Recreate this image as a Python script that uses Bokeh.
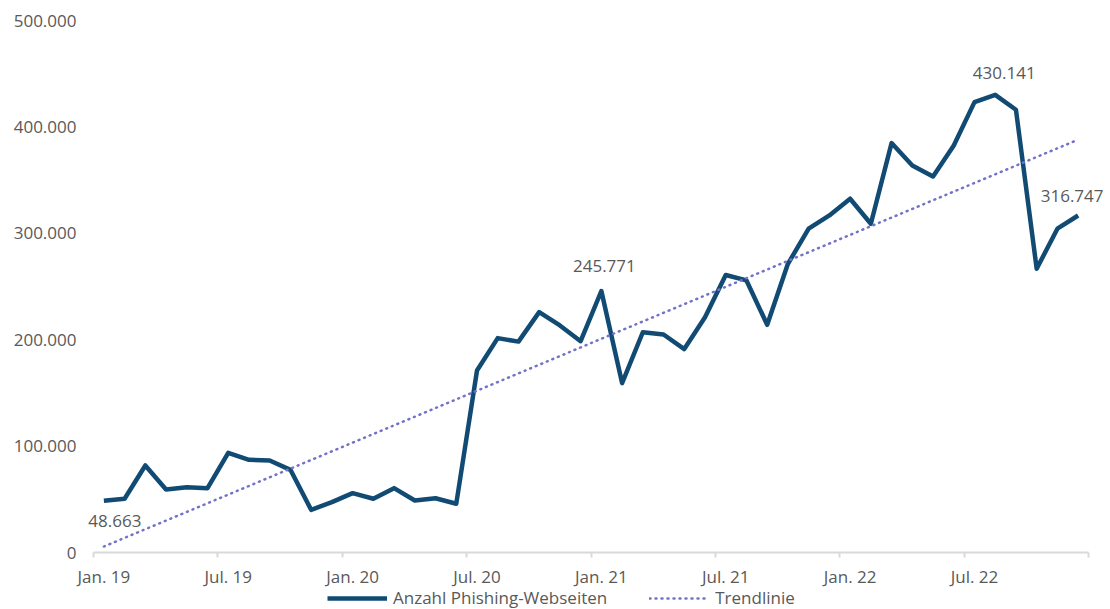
from bokeh.plotting import figure
from bokeh.models import FixedTicker, Legend, LegendItem, ColumnDataSource, LabelSet, Range1d
from bokeh.core.properties import value
from bokeh.embed import file_html
from bokeh.resources import INLINE

# ---- data (monthly, Jan. 2019 - Dec. 2022) ----
months = list(range(48))
phishing = [48663, 50500, 81800, 59200, 61400, 60500, 93700, 87100, 86500, 77700, 40100, 47300,
            55800, 50500, 60500, 48900, 51000, 45800, 171000, 201500, 198200, 225900, 213400, 198600,
            245771, 159200, 207000, 204900, 191200, 221000, 260800, 255700, 214000, 271300, 304300, 316800,
            332500, 309000, 384800, 363800, 353400, 382600, 423300, 430141, 416100, 266700, 304300, 316747]
trend_x = [0, 47]
trend_y = [5600, 388000]
tick_pos = [0, 6, 12, 18, 24, 30, 36, 42]
tick_labels = ["Jan. 19", "Jul. 19", "Jan. 20", "Jul. 20", "Jan. 21", "Jul. 21", "Jan. 22", "Jul. 22"]
y_ticks = [0, 100000, 200000, 300000, 400000, 500000]
y_labels = ["0", "100.000", "200.000", "300.000", "400.000", "500.000"]
label_idx = [0, 24, 43, 47]

FONT = "Open Sans"
GRAY = "#595959"
FS = "17px"

# frame spans a bit wider/taller than the axes so that labels and legend are not clipped
LEFT = 76
UNIT_X = 995 / 48.0
x_start = -0.5 - (93 - LEFT) / UNIT_X
x_end = 47.5 + 22 / UNIT_X
UNIT_Y = 500000 / 532.0
y_start = -57 * UNIT_Y

p = figure(frame_width=1110 - LEFT, frame_height=589, output_backend="svg", toolbar_location=None,
           x_range=Range1d(x_start, x_end), y_range=Range1d(y_start, 500000),
           min_border_left=LEFT, min_border_right=0, min_border_top=20, min_border_bottom=0)
p.outline_line_color = None
p.grid.visible = False
p.background_fill_color = "white"
p.border_fill_color = "white"

r1 = p.line(months, phishing, line_color="#114b74", line_width=4.5, line_join="round")
r2 = p.line(trend_x, trend_y, line_color="#7272c8", line_width=2.5, line_dash="1 5", line_cap="round")

# data labels
fmt = lambda v: f"{v:,}".replace(",", ".")
lab_src = ColumnDataSource(dict(
    x=[months[i] for i in label_idx],
    y=[phishing[i] for i in label_idx],
    t=[fmt(phishing[i]) for i in label_idx],
    dx=[11, 3, 9, -6],
    dy=[-20, 25, 22, 19],
))
labels = LabelSet(x="x", y="y", text="t", x_offset="dx", y_offset="dy", source=lab_src,
                  text_align="center", text_baseline="middle", text_font=value(FONT),
                  text_font_size=FS, text_color=GRAY)
p.add_layout(labels)

# x axis (fixed at y = 0)
xa = p.xaxis[0]
xa.fixed_location = 0
xa.bounds = (-0.5, 47.5)
xa.ticker = FixedTicker(ticks=tick_pos, minor_ticks=[-0.5 + 6 * k for k in range(9)])
xa.major_label_overrides = {t: l for t, l in zip(tick_pos, tick_labels)}
xa.major_tick_line_color = None
xa.major_tick_out = 0
xa.major_tick_in = 0
xa.minor_tick_line_color = "#d9d9d9"
xa.minor_tick_line_width = 2
xa.minor_tick_out = 5
xa.minor_tick_in = 0
xa.axis_line_color = "#d9d9d9"
xa.axis_line_width = 2
xa.major_label_text_font = FONT
xa.major_label_text_font_size = FS
xa.major_label_text_color = GRAY
xa.major_label_standoff = 7

# y axis
ya = p.yaxis[0]
ya.bounds = (0, 500000)
ya.ticker = FixedTicker(ticks=y_ticks)
ya.major_label_overrides = {t: l for t, l in zip(y_ticks, y_labels)}
ya.axis_line_color = None
ya.major_tick_line_color = None
ya.minor_tick_line_color = None
ya.major_tick_out = 0
ya.major_tick_in = 0
ya.major_label_text_font = FONT
ya.major_label_text_font_size = FS
ya.major_label_text_color = GRAY
ya.major_label_standoff = 0

legend = Legend(items=[LegendItem(label="Anzahl Phishing-Webseiten", renderers=[r1]),
                       LegendItem(label="Trendlinie", renderers=[r2])],
                orientation="horizontal", location=(327 - LEFT, 0))
legend.border_line_color = None
legend.background_fill_alpha = 0
legend.padding = 0
legend.margin = 0
legend.spacing = 42
legend.glyph_width = 60
legend.glyph_height = 16
legend.label_standoff = 6
legend.label_text_font = FONT
legend.label_text_font_size = FS
legend.label_text_color = GRAY
legend.label_height = 16
p.add_layout(legend)

open("out.html", "w").write(file_html(p, INLINE))
